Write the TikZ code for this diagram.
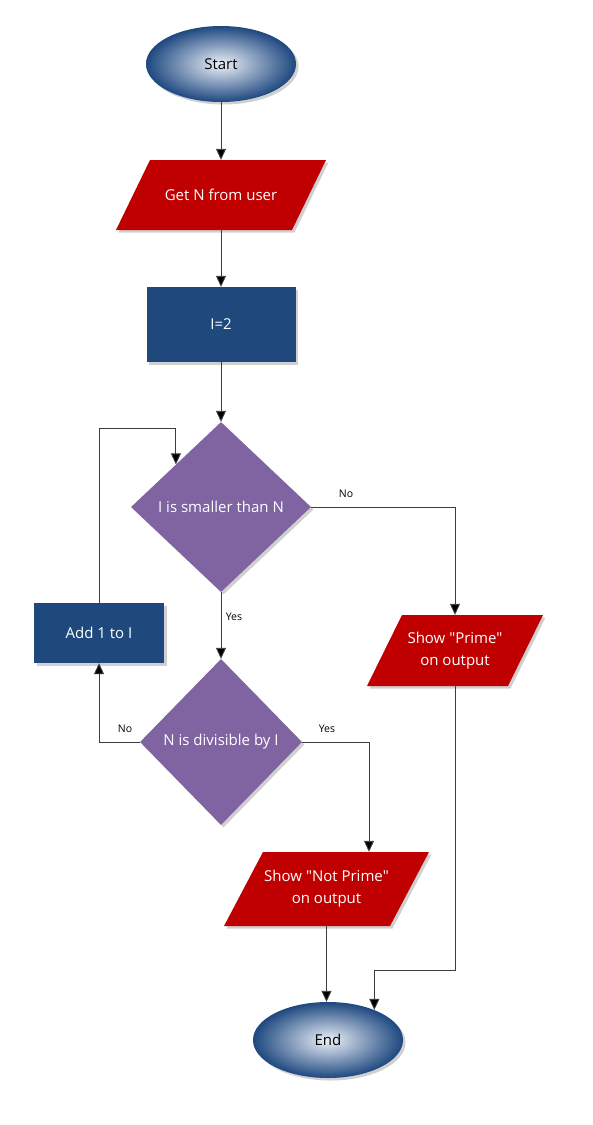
\documentclass[tikz,border=0pt]{standalone}
\usepackage{fontspec}
\setmainfont{Open Sans}[Ligatures=TeXOff]
\usetikzlibrary{shapes.geometric,arrows.meta,shadows,calc,backgrounds}
\definecolor{ioRed}{RGB}{192,0,0}
\definecolor{boxBlue}{RGB}{31,73,125}
\definecolor{decPurple}{RGB}{128,100,162}
\definecolor{ellOut}{RGB}{30,72,128}
\definecolor{ellIn}{RGB}{236,241,248}
\definecolor{lineGray}{RGB}{60,60,60}
\tikzset{
  shad/.style={drop shadow={shadow xshift=2.5pt,shadow yshift=-2.5pt,opacity=0.3,fill=black!60}},
  txt/.style={text=white,font=\fontsize{15}{22}\selectfont,align=center},
  term/.style={ellipse,minimum width=150pt,minimum height=76pt,inner sep=0pt,
    inner color=ellIn,outer color=ellOut,shad,font=\fontsize{15}{22}\selectfont},
  procbox/.style={rectangle,fill=boxBlue,inner sep=0pt,shad,txt},
  decision/.style={diamond,fill=decPurple,inner sep=0pt,shad,txt},
  iotext/.style={rectangle,inner sep=0pt,txt},
  conn/.style={draw=lineGray,line width=0.9pt,-{Triangle[width=10pt,length=11pt,fill=black]}},
  lbl/.style={font=\fontsize{10.5}{12}\selectfont,text=black,inner sep=0pt}
}
% #1 name, #2 cx, #3 cy, #4 edge width, #5 height, #6 slant, #7 text
\newcommand\ioshape[7]{%
  \path[fill=ioRed,shad]
    ({#2-#4/2+#6/2},{#3-#5/2}) -- ({#2+#4/2+#6/2},{#3-#5/2}) --
    ({#2+#4/2-#6/2},{#3+#5/2}) -- ({#2-#4/2-#6/2},{#3+#5/2}) -- cycle;
  \node[iotext,minimum width=#4 pt,minimum height=#5 pt] (#1) at (#2,#3) {#7};
}
\begin{document}
\begin{tikzpicture}[x=1pt,y=-1pt]
\fill[white] (0,0) rectangle (592,1125);
\useasboundingbox (0,0) rectangle (592,1125);

\node[term] (start) at (221,64) {Start};
\ioshape{get}{221}{195}{176}{70}{34}{Get N from user}
\node[procbox,minimum width=149pt,minimum height=75pt] (i2) at (221,324.5) {I=2};
\node[decision,minimum width=180pt,minimum height=170pt] (d1) at (221,507) {I is smaller than N};
\node[procbox,minimum width=130pt,minimum height=60pt] (add) at (99,633) {Add 1 to I};
\node[decision,minimum width=162pt,minimum height=166pt] (d2) at (221,742) {N is divisible by I};
\ioshape{prime}{455}{650.5}{141}{71}{35}{Show "Prime"\\on output}
\ioshape{np}{326.5}{889}{166}{74}{39}{Show "Not Prime"\\on output}
\node[term] (end) at (328,1040) {End};

\coordinate (loop) at ($(d1.north west)+(0,-36)$);
\coordinate (npin) at ($(np.north)+(42.5,0)$);
\coordinate (bend) at (end.33 |- 0,970);

\draw[conn] (start.south) -- (get.north);
\draw[conn] (get.south) -- (i2.north);
\draw[conn] (i2.south) -- (d1.north);
\draw[conn] (d1.east) -| (prime.north);
\draw[conn] (d1.south) -- (d2.north);
\draw[conn] (d2.east) -| (npin);
\draw[conn] (d2.west) -| (add.south);
\draw[conn] (add.north) |- (loop) -- (d1.north west);
\draw[conn] (np.south) -- (np.south |- end.north);
\draw[conn] (prime.south) |- (bend) -- (end.33);

\node[lbl] (lno1) at (346,494) {No};
\node[lbl] (lyes1) at (234,617) {Yes};
\node[lbl] (lno2) at (125,729) {No};
\node[lbl] (lyes2) at (327,729) {Yes};
\end{tikzpicture}
\end{document}
